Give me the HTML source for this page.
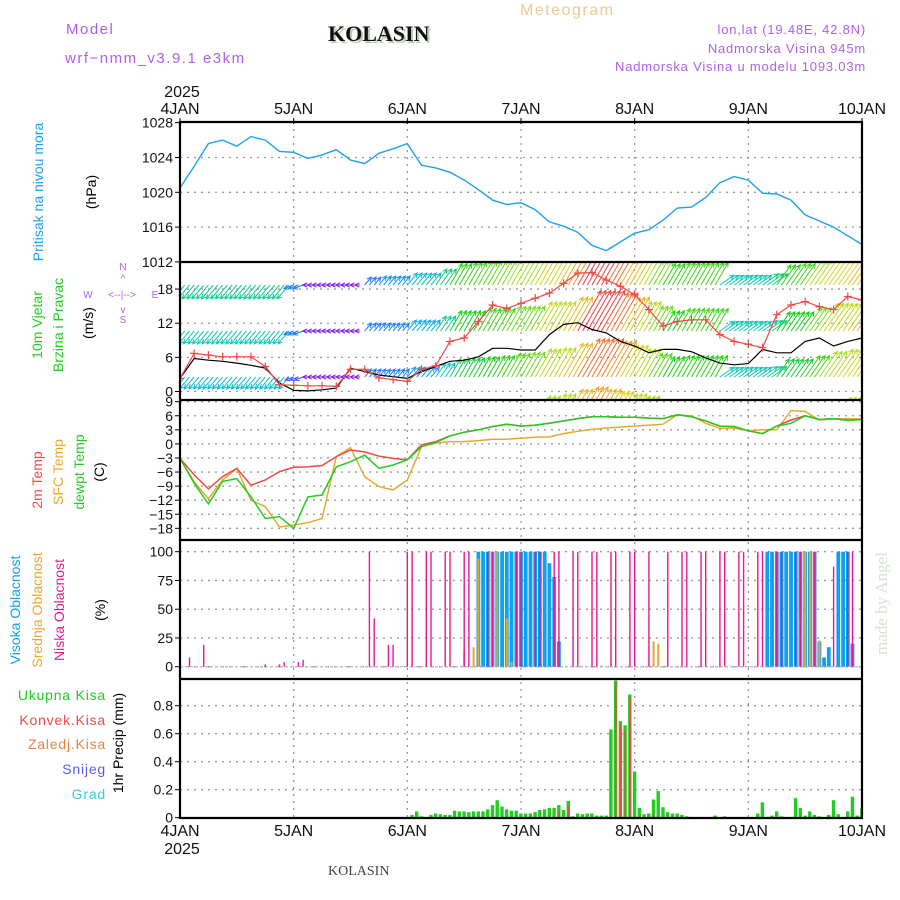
<!DOCTYPE html>
<html><head><meta charset="utf-8"><style>
html,body{margin:0;padding:0;background:#fff;}
svg{display:block;font-family:"Liberation Sans",sans-serif;}
</style></head><body>
<svg id="chart" width="900" height="900" viewBox="0 0 900 900" xmlns="http://www.w3.org/2000/svg">
<defs>
<clipPath id="cpP"><rect x="180" y="122" width="682" height="140"/></clipPath>
<clipPath id="cpW"><rect x="180" y="262" width="682" height="138"/></clipPath>
<clipPath id="cpT"><rect x="180" y="400" width="682" height="140"/></clipPath>
<clipPath id="cpC"><rect x="180" y="540" width="682" height="139"/></clipPath>
<clipPath id="cpR"><rect x="180" y="679" width="682" height="139"/></clipPath>
</defs>
<g>
<text x="66" y="34" font-size="15" fill="#b05ee8" letter-spacing="1.5">Model</text>
<text x="65" y="63" font-size="15" fill="#b05ee8" letter-spacing="1.5">wrf−nmm_v3.9.1 e3km</text>
<text x="330" y="43" font-size="22" font-weight="bold" font-family="Liberation Serif,serif" fill="#b8c8b0">KOLASIN</text>
<text x="328" y="41" font-size="22" font-weight="bold" font-family="Liberation Serif,serif" fill="#111">KOLASIN</text>
<text x="520" y="15" font-size="16" fill="#f0c890" letter-spacing="1.5">Meteogram</text>
<text x="866" y="34" font-size="13" fill="#b05ee8" text-anchor="end" letter-spacing="0.8">lon,lat (19.48E, 42.8N)</text>
<text x="866" y="53" font-size="13" fill="#b05ee8" text-anchor="end" letter-spacing="0.8">Nadmorska Visina 945m</text>
<text x="866" y="71" font-size="13" fill="#b05ee8" text-anchor="end" letter-spacing="0.8">Nadmorska Visina u modelu 1093.03m</text>
<text x="328" y="875" font-size="14" font-family="Liberation Serif,serif" fill="#444">KOLASIN</text>
<text transform="translate(887,655) rotate(-90)" font-size="17" fill="#d6e2d2" font-family="Liberation Serif,serif">made by Angel</text>
</g>
<g id="grid"></g>
<g id="marks"></g>
<g id="axes"></g>
<g font-size="14">
<text transform="translate(43,192) rotate(-90)" text-anchor="middle" fill="#1ea0f0">Pritisak na nivou mora</text>
<text transform="translate(96,192) rotate(-90)" text-anchor="middle" fill="#000">(hPa)</text>
<text transform="translate(42,325) rotate(-90)" text-anchor="middle" fill="#22cc22">10m Vjetar</text>
<text transform="translate(63,325) rotate(-90)" text-anchor="middle" fill="#22cc22">Brzina i Pravac</text>
<text transform="translate(93,323) rotate(-90)" text-anchor="middle" fill="#000">(m/s)</text>
<g font-size="10" fill="#b05ee8" text-anchor="middle">
<text x="123" y="270">N</text>
<text x="88" y="298">W</text>
<text x="155" y="298">E</text>
<text x="123" y="323">S</text>
<text x="122" y="298">&lt;--|--&gt;</text>
<text x="123" y="282">^</text>
<text x="123" y="313">v</text>
</g>
<text transform="translate(42,480) rotate(-90)" text-anchor="middle" fill="#f04848">2m Temp</text>
<text transform="translate(63,472) rotate(-90)" text-anchor="middle" fill="#e8a830">SFC Temp</text>
<text transform="translate(84,472) rotate(-90)" text-anchor="middle" fill="#22cc22">dewpt Temp</text>
<text transform="translate(104,472) rotate(-90)" text-anchor="middle" fill="#000">(C)</text>
<text transform="translate(20,610) rotate(-90)" text-anchor="middle" fill="#10a0f0">Visoka Oblacnost</text>
<text transform="translate(42,610) rotate(-90)" text-anchor="middle" fill="#e8a830">Srednja Oblacnost</text>
<text transform="translate(64,610) rotate(-90)" text-anchor="middle" fill="#e81890">Niska Oblacnost</text>
<text transform="translate(105,610) rotate(-90)" text-anchor="middle" fill="#000">(%)</text>
<g font-size="14" text-anchor="end" letter-spacing="0.8">
<text x="106" y="700" fill="#22cc22">Ukupna Kisa</text>
<text x="106" y="725" fill="#f04848">Konvek.Kisa</text>
<text x="106" y="749" fill="#f08040">Zaledj.Kisa</text>
<text x="106" y="774" fill="#5a5af0">Snijeg</text>
<text x="106" y="799" fill="#30d0d0">Grad</text>
</g>
<text transform="translate(123,743) rotate(-90)" text-anchor="middle" fill="#000">1hr Precip (mm)</text>
</g>
</svg>
<script>
// ---- data (3-hourly unless noted; hour = 3*index from 4JAN 00) ----
const dayLabels = ["4JAN","5JAN","6JAN","7JAN","8JAN","9JAN","10JAN"];
const pressTicks = [1012,1016,1020,1024,1028];
const windTicks = [0,6,12,18];
const tempTicks = [-18,-15,-12,-9,-6,-3,0,3,6,9];
const cloudTicks = [0,25,50,75,100];
const precipTicks = [0,0.2,0.4,0.6,0.8];
const pressure = [1020.5,1023,1025.6,1026,1025.3,1026.4,1026.0,1024.7,1024.6,1023.9,1024.3,1024.9,1023.7,1023.3,1024.5,1025.0,1025.6,1023.1,1022.8,1022.3,1021.4,1020.3,1019.1,1018.6,1018.8,1018.0,1016.6,1016.1,1015.4,1013.9,1013.3,1014.3,1015.3,1015.7,1016.8,1018.2,1018.3,1019.4,1021.1,1021.8,1021.4,1019.9,1019.8,1019.1,1017.4,1016.7,1016.0,1015.0,1014.0];
const windRed = [2.3,6.7,6.4,6.1,6.1,6.1,4.4,1.2,1.1,1.0,1.0,0.9,3.9,3.9,2.4,2.1,1.8,3.9,4.5,8.8,9.4,12.3,15.2,14.6,15.5,16.4,17.3,19.0,20.8,20.9,19.6,18.5,17.0,14.4,11.5,12.3,12.6,12.6,10.0,8.8,8.3,7.7,13.5,15.2,15.8,14.9,14.4,16.7,16.1];
const windBlack = [2.3,5.8,5.5,5.3,5.0,4.6,4.1,1.5,0.2,0.1,0.3,0.6,4.1,3.5,2.9,2.6,2.3,3.5,4.4,5.3,5.5,6.1,7.6,7.6,7.3,7.3,10.0,11.8,12.1,10.9,10.3,8.8,8.0,6.8,7.4,7.4,7.0,5.9,5.0,4.7,4.9,7.4,6.8,6.8,8.8,9.4,8.0,8.8,9.4];
const windDir = [220,220,220,220,220,220,220,220,250,270,270,270,270,40,40,40,40,40,35,30,30,30,30,30,30,30,30,30,30,30,30,30,30,30,30,30,30,30,55,55,55,55,35,35,35,35,35,35,35];
const spdTop = [7,7,7,7,7,7,7,7,4,2,2,2,2,4,4.5,4.5,6,6,7.5,9.5,10,10.5,11,12,12,13.5,14,16,18,18,17,15,13,11,9.5,10,10,10,6.5,6.5,6.5,7.5,9.5,10,12,13.5,14,15,16];
const spdMid = [6.5,6.5,6.5,6.5,6.5,6.5,6.5,6.5,4,2,2,2,2,4,4,4,5.5,5.5,7,9,9,10,10,11,11,13,13,15,18,18,17,15,13,11,9,10,10,10,6.5,6.5,6.5,7,9,9,11,13,13,15,15];
const spdLow = [6,6,6,6,6,6,6,6,3.5,2,2,2,2,4,4,4,5,5,6.5,8,8.5,9,9.5,10.5,11,12.5,13,15,17,17,16,14,12.5,10.5,9,9.5,9.5,9.5,6.5,6.5,6.5,7,8.5,8.5,10,12,13,14,14];
const spdSfc = [5,5,5,5,5,5,5,5,3,2,2,2,2,3,3,3,4,4,5,7,7,8,8,9.5,10,12,13,15,16,15,14,13,12,10,8,9,9,9,5.5,5.5,5.5,6,8,8,9.5,11,12,13,13];
const temp2m = [-3.1,-6.6,-9.6,-7.0,-5.2,-8.8,-7.7,-5.9,-5.0,-4.9,-4.6,-2.7,-1.3,-1.7,-2.6,-3.1,-3.4,-0.2,0.5,1.7,2.5,3.0,3.7,4.2,3.8,4.0,4.4,4.9,5.4,5.8,5.8,5.7,5.7,5.5,5.4,6.2,5.8,4.9,3.8,3.7,2.8,2.2,3.8,5.1,6.0,5.2,5.4,5.0,5.2];
const tempSfc = [-3.1,-8.1,-11.7,-7.7,-5.2,-12.0,-13.4,-17.7,-17.3,-16.8,-15.9,-2.7,-0.8,-7.0,-9.1,-9.8,-7.7,-0.6,0.2,0.5,0.5,0.7,1.0,1.0,1.2,1.4,1.5,2.2,2.7,3.1,3.4,3.6,3.8,4.0,4.2,6.2,6.0,4.4,3.3,3.4,2.8,3.0,3.0,7.1,6.9,5.1,5.3,5.4,5.3];
const tempDew = [-3.1,-8.4,-12.8,-8.0,-7.4,-11.3,-15.9,-15.5,-18.0,-11.3,-10.9,-4.9,-3.8,-2.4,-5.2,-4.5,-3.4,-0.6,0.3,1.7,2.5,3.0,3.7,4.2,3.8,4.0,4.4,4.9,5.4,5.8,5.8,5.7,5.7,5.5,5.4,6.2,5.8,4.9,3.8,3.7,2.8,2.2,3.8,4.4,6.0,5.2,5.4,5.0,5.2];
// hourly cloud bars (hour, percent)
const lowHours = [2,5,18,21,22,25,26,40,41,44,45,48,49,52,53,56,57,60,61,65,66,71,72,75,76,79,80,83,84,87,88,91,92,95,96,99,103,106,107,110,111,114,115,118,119,122,123,126,127,130,131,134,138,141,142];
const lowVals  = [8,19,2,2,4,4,6,100,42,19,19,100,100,100,100,100,100,100,100,100,100,100,100,100,100,100,100,100,100,100,100,100,100,100,100,100,100,100,100,100,100,100,100,100,100,100,100,100,100,100,100,100,87,100,100];
const midHours = [60,62,63,66,67,69,70,89,100,101,131,132,133,135];
const midVals  = [15,17,94,100,100,42,4,1,22,20,42,100,100,23];
const highHours = [63,64,65,66,67,68,69,70,71,72,73,74,75,76,77,78,79,80,124,125,126,127,128,129,130,131,132,133,134,135,136,137,139,140,141,142];
const highVals  = [100,100,100,100,100,100,100,100,100,100,100,100,100,100,100,90,78,22,100,100,100,100,100,100,100,100,100,100,100,22,8,17,100,100,100,20];
// hourly precipitation (hour, mm)
const precipHours = [2,49,50,51,52,53,54,55,56,57,58,59,60,61,62,63,64,65,66,67,68,69,70,71,72,73,74,75,76,77,78,79,80,81,82,83,84,85,86,87,88,89,90,91,92,93,94,95,96,97,98,99,100,101,102,103,104,105,106,107,113,115,122,123,125,126,127,130,131,132,133,134,135,137,138,139,141,142,143,144];
const precipTotal = [0.005,0.02,0.045,0.01,0.005,0.02,0.03,0.025,0.02,0.02,0.05,0.045,0.045,0.04,0.045,0.045,0.045,0.06,0.09,0.125,0.08,0.06,0.05,0.05,0.03,0.03,0.03,0.04,0.055,0.06,0.07,0.07,0.09,0.055,0.12,0.01,0.03,0.025,0.03,0.03,0.015,0.015,0.015,0.63,0.98,0.69,0.66,0.88,0.33,0.07,0.025,0.03,0.13,0.19,0.075,0.04,0.03,0.03,0.02,0.01,0.015,0.01,0.03,0.11,0.015,0.045,0.01,0.14,0.07,0.015,0.045,0.02,0.01,0.02,0.125,0.025,0.045,0.15,0.015,0.07];
const convHours = [80,82,92,93,94,95,97,100];
const convVals  = [0.04,0.08,0.97,0.66,0.63,0.86,0.02,0.02];

// ---- scales ----
const X0=180, X1=862, NH=144;
const xH = h => X0 + h*(X1-X0)/NH;
const yP = v => 122.7 + (1028-v)*8.7;
const yW = v => 391.5 - v*5.69;
const yT = v => 443.9 - v*4.69;
const yC = v => 666.7 - v*1.15;
const yR = v => 817.7 - v*140;
const NS="http://www.w3.org/2000/svg";
const grid=document.getElementById('grid'), marks=document.getElementById('marks'), axes=document.getElementById('axes');
function mk(tag, attrs, parent){const e=document.createElementNS(NS,tag);for(const k in attrs)e.setAttribute(k,attrs[k]);parent.appendChild(e);return e;}

const panels=[[122,262,pressTicks,yP],[262,400,windTicks,yW],[400,540,tempTicks,yT],[540,679,cloudTicks,yC],[679,818,precipTicks,yR]];
dayLabels.forEach((d,i)=>{
  const x=xH(i*24);
  if(i>0 && i<6){const l=mk('line',{x1:x,y1:122,x2:x,y2:818,stroke:'#999','stroke-width':1.3,'stroke-dasharray':'2,5'},grid);
  
  }
  const t=mk('text',{x:x,y:114,'font-size':16,'text-anchor':'middle',fill:'#111'},axes);t.textContent=d;
  
  
  const b=mk('text',{x:x,y:836,'font-size':16,'text-anchor':'middle',fill:'#111'},axes);b.textContent=d;
  
  
  mk('line',{x1:x,y1:118,x2:x,y2:124,stroke:'#000','stroke-width':1},axes);
});
[[182,97],[182,854]].forEach(p=>{const t=mk('text',{x:p[0],y:p[1],'font-size':16,'text-anchor':'middle',fill:'#111'},axes);t.textContent='2025';
  
  });
panels.forEach(p=>{
  p[2].forEach(v=>{
    const y=p[3](v);
    if(y>p[0]+1 && y<p[1]-1){const l=mk('line',{x1:X0,y1:y,x2:X1,y2:y,stroke:'#999','stroke-width':1.3,'stroke-dasharray':'2,5'},grid);
    
    }
    const t=mk('text',{x:173,y:y+5,'font-size':14,'text-anchor':'end',fill:'#111'},axes);
    t.textContent=(v<0?'\u2212'+(-v):String(v));
    
    
    mk('line',{x1:175,y1:y,x2:180,y2:y,stroke:'#000'},axes);
  });
});
[122,262,400,540,679,818].forEach(y=>mk('line',{x1:X0-1,y1:y,x2:X1+1,y2:y,stroke:'#000','stroke-width':2.2},axes));
mk('line',{x1:X0,y1:121,x2:X0,y2:819,stroke:'#000','stroke-width':2.2},axes);
mk('line',{x1:X1,y1:121,x2:X1,y2:819,stroke:'#000','stroke-width':2.2},axes);

function linePath(arr, yf){return arr.map((v,i)=>(i?'L':'M')+xH(i*3).toFixed(1)+','+yf(v).toFixed(1)).join('');}

const pp=mk('path',{d:linePath(pressure,yP),fill:'none',stroke:'#1ea0f0','stroke-width':1.4,'clip-path':'url(#cpP)'},marks);



const stops=[[1,[144,0,224]],[3,[106,60,255]],[4,[32,128,255]],[5.5,[16,176,240]],[6.5,[16,200,184]],[9,[16,208,16]],[12,[160,224,32]],[14,[224,208,32]],[16,[240,160,32]],[18,[240,64,64]]];
function colorFor(v){
  if(v<=stops[0][0])return 'rgb('+stops[0][1]+')';
  for(let i=1;i<stops.length;i++){if(v<=stops[i][0]){const a=stops[i-1],b=stops[i],t=(v-a[0])/(b[0]-a[0]);
    return 'rgb('+a[1].map((c,k)=>Math.round(c+(b[1][k]-c)*t)).join(',')+')';}}
  return 'rgb('+stops[stops.length-1][1]+')';
}
const wg=mk('g',{'clip-path':'url(#cpW)'},marks);


const rows=[[spdTop,285],[spdMid,331],[spdLow,377],[spdSfc,423]];
rows.forEach(r=>{
  const spd=r[0], base=r[1];
  for(let h=0;h<=NH;h++){
    const i=Math.min(48,Math.floor(h/3));
    const v=spd[i], d=windDir[i]*Math.PI/180, L=v*2.6;
    const x=xH(h), x2=x+Math.sin(d)*L, y2=base-Math.cos(d)*L;
    const col=colorFor(v);
    const a=mk('path',{d:'M'+x.toFixed(1)+','+base+'L'+x2.toFixed(1)+','+y2.toFixed(1)+
      'M'+(x2-Math.sin(d-0.45)*5).toFixed(1)+','+(y2+Math.cos(d-0.45)*5).toFixed(1)+'L'+x2.toFixed(1)+','+y2.toFixed(1)+
      'L'+(x2-Math.sin(d+0.45)*5).toFixed(1)+','+(y2+Math.cos(d+0.45)*5).toFixed(1),
      fill:'none',stroke:col,'stroke-width':1},wg);
    
    
  }
});
const wb=mk('path',{d:linePath(windBlack,yW),fill:'none',stroke:'#000','stroke-width':1.2,'clip-path':'url(#cpW)'},marks);


const wr=mk('path',{d:linePath(windRed,yW),fill:'none',stroke:'#f04848','stroke-width':1.2,'clip-path':'url(#cpW)'},marks);


windRed.forEach((v,i)=>{const x=xH(i*3),y=yW(v);
  const m=mk('path',{d:'M'+(x-4)+','+y+'h8M'+x+','+(y-4)+'v8',stroke:'#f04848','stroke-width':1.2,'clip-path':'url(#cpW)'},marks);
  
  });

[[tempSfc,'#e8a830','sfc-temp-line'],[temp2m,'#f04848','temp-2m-line'],[tempDew,'#22cc22','dewpoint-line']].forEach(s=>{
  const p=mk('path',{d:linePath(s[0],yT),fill:'none',stroke:s[1],'stroke-width':1.5,'clip-path':'url(#cpT)'},marks);
  
  
});

mk('line',{x1:X0,y1:yC(0),x2:X1,y2:yC(0),stroke:'#c8b8d0','stroke-width':1.5,'stroke-dasharray':'3,2'},marks);
const cg=mk('g',{'clip-path':'url(#cpC)'},marks);


function cloudBars(hours,vals,col,w,name){
  hours.forEach((h,i)=>{const y=yC(vals[i]);
    const r=mk('rect',{x:(xH(h)-w/2).toFixed(1),y:y.toFixed(1),width:w,height:(yC(0)-y).toFixed(1),fill:col},cg);
    
    });
}
cloudBars(highHours,highVals,'#10a0f0',3.8,'high-cloud-bar');
cloudBars(midHours,midVals,'#e8a830',2,'mid-cloud-bar');
cloudBars(lowHours,lowVals,'#e81890',1.4,'low-cloud-bar');

const rg=mk('g',{'clip-path':'url(#cpR)'},marks);


precipHours.forEach((h,i)=>{const y=yR(precipTotal[i]);
  const r=mk('rect',{x:(xH(h)-1.8).toFixed(1),y:y.toFixed(1),width:3.4,height:(yR(0)-y).toFixed(1),fill:'#22cc22'},rg);
  
  });
convHours.forEach((h,i)=>{const y=yR(convVals[i]);
  const r=mk('rect',{x:(xH(h)-0.6).toFixed(1),y:y.toFixed(1),width:1.6,height:(yR(0)-y).toFixed(1),fill:'#f04848'},rg);
  
  });
</script>
</body></html>
